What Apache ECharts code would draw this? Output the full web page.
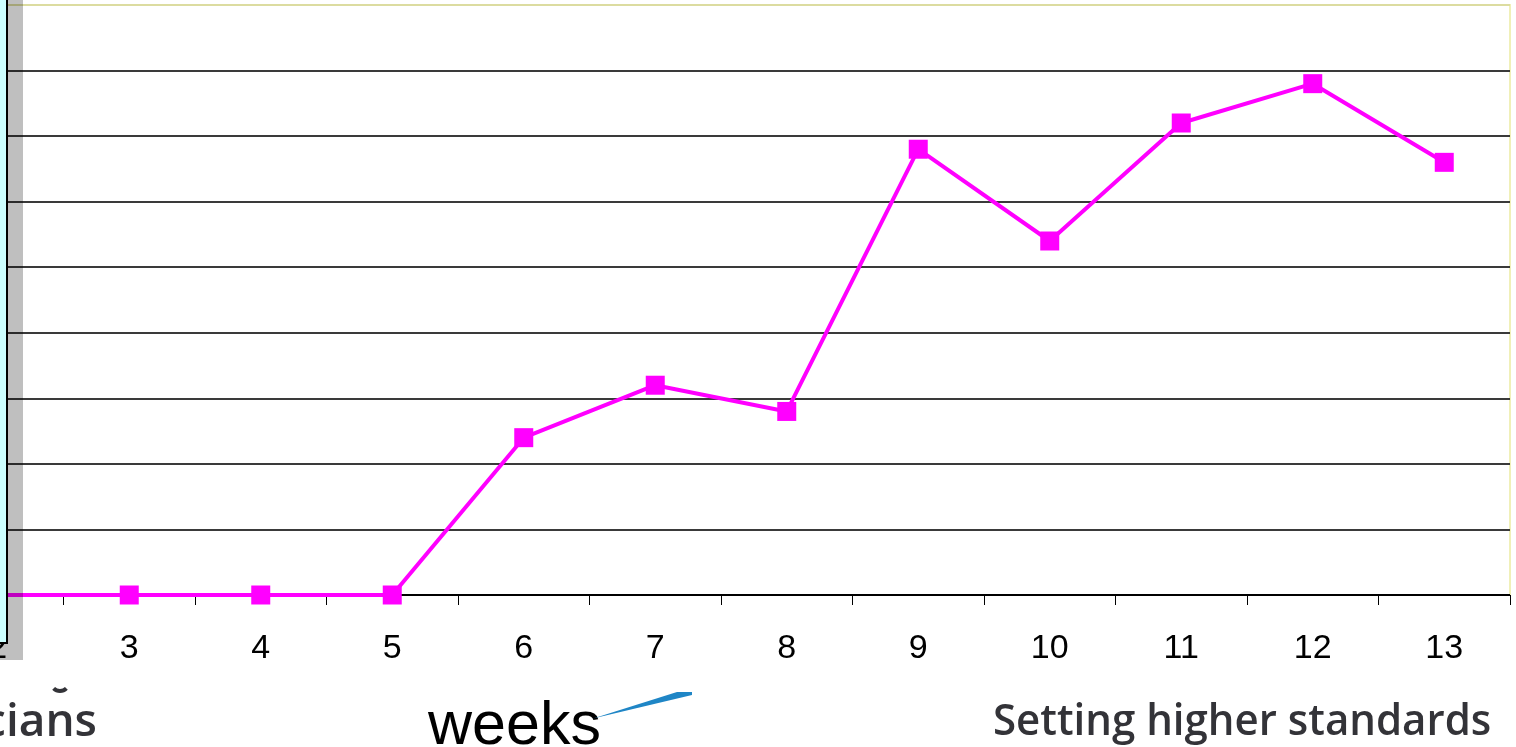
<!DOCTYPE html>
<html>
<head>
<meta charset="utf-8">
<title>weeks</title>
<script src="https://cdn.jsdelivr.net/npm/echarts@6/dist/echarts.min.js"></script>
<style>
  html, body { margin: 0; padding: 0; background: #ffffff; overflow: hidden; }
  #chart { width: 1516px; height: 747px; }
</style>
</head>
<body>
<div id="chart"></div>
<script>
// Week numbers along the x axis
const weeks = ['2', '3', '4', '5', '6', '7', '8', '9', '10', '11', '12', '13'];
// Weekly values (magenta series)
const values = [0, 0, 0, 0, 12, 16, 14, 34, 27, 36, 39, 33];
// Value axis range
const yMin = 0;
const yMax = 45;
const yStep = 5;

const gridLineColors = [];
for (let v = yMin; v <= yMax; v += yStep) {
  gridLineColors.push(v === yMax ? '#dcdca0' : (v === yMin ? '#000000' : '#3a3a3a'));
}

const chart = echarts.init(document.getElementById('chart'), null, { renderer: 'canvas' });

chart.setOption({
  animation: false,
  backgroundColor: '#ffffff',
  grid: {
    left: -68,
    right: 6,
    top: 5,
    bottom: 152,
    show: true,
    backgroundColor: '#ffffff',
    borderColor: '#f0f0b8',
    borderWidth: 2,
    containLabel: false,
    outerBoundsMode: 'none'
  },
  xAxis: {
    type: 'category',
    data: weeks,
    boundaryGap: true,
    axisLine: { show: true, lineStyle: { color: '#000000', width: 1 } },
    axisTick: { show: true, length: 10, alignWithLabel: false, lineStyle: { color: '#000000', width: 1 } },
    axisLabel: {
      interval: 0,
      color: '#000000',
      fontFamily: 'Liberation Sans, Arial, sans-serif',
      fontSize: 34,
      margin: 37
    },
    splitLine: { show: false },
    z: 3
  },
  yAxis: {
    type: 'value',
    min: yMin,
    max: yMax,
    interval: yStep,
    axisLine: { show: false },
    axisTick: { show: false },
    axisLabel: { show: false },
    splitLine: { show: true, lineStyle: { color: gridLineColors, width: 2 } }
  },
  series: [{
    type: 'line',
    data: values,
    color: '#ff00ff',
    symbol: 'rect',
    symbolSize: 19,
    showSymbol: true,
    lineStyle: { color: '#ff00ff', width: 4 },
    itemStyle: { color: '#ff00ff' },
    z: 4
  }],
  graphic: [
    // shadow of the framed box on the left
    { type: 'rect', z: 100, shape: { x: 7, y: 0, width: 16, height: 660 }, style: { fill: 'rgba(0,0,0,0.25)' } },
    { type: 'rect', z: 100, shape: { x: 0, y: 643, width: 7, height: 17 }, style: { fill: 'rgba(0,0,0,0.25)' } },
    // framed box
    { type: 'rect', z: 101, shape: { x: -20, y: -20, width: 27, height: 663 }, style: { fill: '#ccffff', stroke: '#000000', lineWidth: 2 } },
    // axis title
    {
      type: 'text', z: 102, x: 428, y: 727,
      style: { text: 'weeks', fill: '#000000', font: '61px "Liberation Sans", Arial, sans-serif', align: 'left', verticalAlign: 'middle' }
    },
    // blue swoosh
    {
      type: 'polygon', z: 102,
      shape: { points: [[593, 718.5], [677, 692], [692, 692], [692, 695]] },
      style: { fill: '#1f86c6' }
    },
    // footer texts
    {
      type: 'text', z: 102, x: 97, y: 723,
      style: { text: 'Physicians', fill: '#333338', font: '600 46px "Open Sans", "Noto Sans", sans-serif', align: 'right', verticalAlign: 'middle' }
    },
    {
      type: 'arc', z: 102,
      shape: { cx: 60, cy: 682, r: 9, startAngle: Math.PI * 0.25, endAngle: Math.PI * 0.75 },
      style: { stroke: '#333338', lineWidth: 4, fill: null }
    },
    {
      type: 'text', z: 102, x: 993, y: 722, scaleX: 0.955,
      style: { text: 'Setting higher standards', fill: '#333338', font: '600 44px "Open Sans", "Noto Sans", sans-serif', align: 'left', verticalAlign: 'middle' }
    }
  ]
});
</script>
</body>
</html>
